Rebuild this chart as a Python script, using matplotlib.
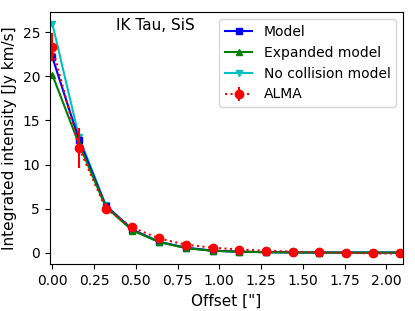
import matplotlib
matplotlib.use("Agg")
import matplotlib.pyplot as plt
import numpy as np

offset = [0.0, 0.16, 0.32, 0.48, 0.64, 0.80, 0.96, 1.12, 1.28, 1.44, 1.60, 1.76, 1.92, 2.08]
model = [22.2, 12.8, 5.3, 2.6, 1.2, 0.55, 0.22, 0.1, 0.05, 0.02, 0.01, 0.0, 0.0, 0.0]
expanded = [20.2, 12.3, 5.2, 2.5, 1.2, 0.5, 0.2, 0.1, 0.04, 0.02, 0.0, 0.0, 0.0, 0.0]
nocoll = [26.0, 13.1, 5.4, 2.6, 1.25, 0.55, 0.22, 0.1, 0.05, 0.02, 0.01, 0.0, 0.0, 0.0]
alma = [23.3, 11.9, 5.0, 2.85, 1.6, 0.9, 0.55, 0.35, 0.22, 0.12, 0.02, -0.02, -0.1, -0.1]
alma_err = [1.6, 2.3, 0.6, 0.3, 0.2, 0.12, 0.1, 0.08, 0.06, 0.05, 0.05, 0.05, 0.05, 0.05]
xticks = [0.0, 0.25, 0.5, 0.75, 1.0, 1.25, 1.5, 1.75, 2.0]
yticks = [0, 5, 10, 15, 20, 25]

fig = plt.figure(figsize=(4.15, 3.11), dpi=100)
ax = fig.add_axes([0.12, 0.151, 0.851, 0.81])
ax.plot(offset, model, '-s', color='blue', ms=5, label='Model')
ax.plot(offset, expanded, '-^', color='green', ms=5, label='Expanded model')
ax.plot(offset, nocoll, '-v', color='c', ms=5, label='No collision model', zorder=1.5)
ax.errorbar(offset, alma, yerr=alma_err, fmt='o:', color='red', ms=6, label='ALMA')
ax.set_xlim(-0.015, 2.1)
ax.set_ylim(-1.3, 27.3)
ax.set_xticks(xticks)
ax.set_xticklabels([f'{t:.2f}' for t in xticks])
ax.set_yticks(yticks)
ax.set_xlabel('Offset ["]', fontsize=11)
ax.set_ylabel('Integrated intensity [Jy km/s]', fontsize=11)
ax.tick_params(labelsize=10)
ax.text(0.3, 0.93, 'IK Tau, SiS', transform=ax.transAxes, ha='center', fontsize=11)
ax.legend(loc='upper right', fontsize=10, handlelength=2)
fig.savefig('out.png', dpi=100)
